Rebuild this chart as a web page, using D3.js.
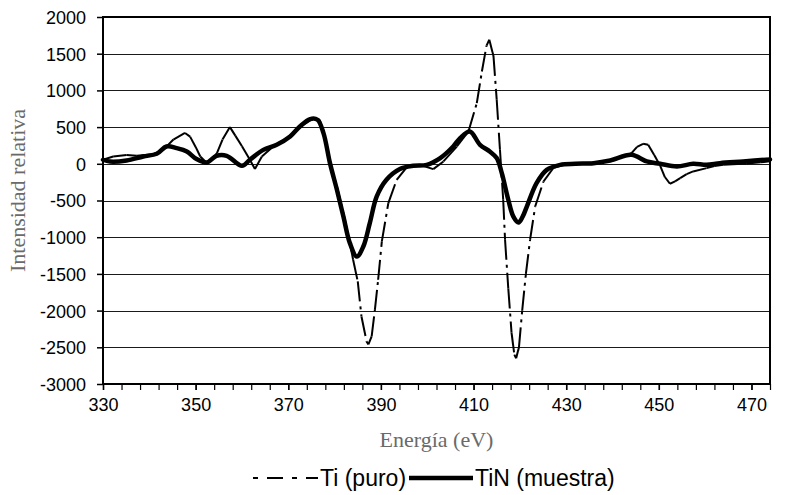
<!DOCTYPE html>
<html lang="es">
<head>
    <meta charset="UTF-8">
    <title>Espectro Ti / TiN</title>
    <script src="https://d3js.org/d3.v7.min.js"></script>
    <style>
        body { margin: 0; background: #fff; }
        .tick-label { font-family: "Liberation Sans", Arial, sans-serif; font-size: 18px; fill: #000; }
        .axis-title { font-family: "Liberation Serif", "Times New Roman", serif; font-size: 22px; fill: #6a6a6a; }
        .legend-label { font-family: "Liberation Sans", Arial, sans-serif; font-size: 23px; fill: #000; }
    </style>
</head>
<body>
<div id="chart"></div>
<script>
    // Ti (puro) - thin dash-dot line
    const tiEnergy = [330, 332.2, 335.1, 337.3, 340.9, 343, 345.2, 347.7, 348.8, 350, 351, 352.4, 353.5, 354.6, 355.8,
        357.4, 358.6, 360, 361.5, 362.8, 364.3, 366.8, 369.7, 372.5, 375.4, 376.8, 377.7, 378.6, 380.5, 382, 383.2,
        384, 385, 385.8, 386.9, 387.3, 388, 388.7, 389.4, 390.2, 391.6, 393.4, 395.6, 398.4, 401.3, 403.5, 406.4, 408.9,
        410.7, 411.8, 412.8, 413.4, 414.3, 415, 415.7, 416.4, 416.8, 417.5, 418.2, 418.8, 419.2, 419.8, 420.5, 421.3,
        422.2, 423.3, 425.1, 427.2, 430, 432, 434, 436, 438, 440, 442, 444.1, 445.3, 446.6, 447.7, 449, 450.3, 451.3,
        452.4, 453.5, 454.6, 456, 457.4, 460.3, 462, 463.9, 466, 469, 472, 474];
    const tiValue = [55, 100, 120, 110, 130, 190, 330, 420, 370, 230, 100, 10, 60, 145, 330,
        500, 380, 240, 80, -70, 100, 240, 350, 500, 620, 600, 400, 100, -309, -700, -1050,
        -1308, -1603, -2080, -2420, -2460, -2350, -1990, -1580, -1058, -535, -218, -45, -14, -72, 32, 236, 440,
        826, 1257, 1610, 1690, 1470, 872, 191, -490, -1035, -1700, -2300, -2600, -2650, -2500, -2000, -1500,
        -1035, -582, -241, -59, -5, 0, 10, 15, 35, 55, 90, 145, 230, 272, 259, 120, -27, -180,
        -272, -240, -195, -140, -104, -59, -30, -14, -5, 5, 20, 35];

    // TiN (muestra) - thick solid line
    const tinEnergy = [330, 331.5, 335.1, 338.7, 341.6, 343.7, 345.9, 348.1, 350.2, 352.4, 354.5, 356.7, 360, 361.7,
        364.6, 367.5, 370.4, 372.5, 374.7, 376.3, 377.6, 379, 380.5, 381.9, 383.3, 384.8, 386.2, 387.6, 389.1, 391.2,
        394.1, 397, 399.9, 402.8, 405.6, 407.1, 409.2, 411.4, 413.5, 415, 416.1, 417.5, 418.6, 419.7, 420.6, 421.5,
        423.6, 425.8, 428.7, 432, 435.9, 439.5, 444.1, 447.4, 450.3, 453.9, 457.4, 460.3, 463.2, 468.2, 474];
    const tinValue = [55, 30, 45, 100, 136, 236, 213, 168, 64, 18, 109, 109, -27, 55,
        190, 260, 372, 508, 609, 600, 418, 9, -354, -718, -1081, -1263, -1127, -808, -445, -218,
        -72, -27, -14, 78, 236, 350, 440, 259, 168, 78, -127, -490, -720, -800, -720, -582,
        -263, -82, -14, 0, 9, 45, 123, 32, 0, -36, 0, -14, 9, 32, 60];

    const xTickValues = [330, 350, 370, 390, 410, 430, 450, 470];
    const yTickValues = [-3000, -2500, -2000, -1500, -1000, -500, 0, 500, 1000, 1500, 2000];

    const width = 785, height = 495;
    const plot = { left: 103, right: 770, top: 17, bottom: 384 };

    const svg = d3.select("#chart").append("svg")
        .attr("width", width)
        .attr("height", height);

    const x = d3.scaleLinear().domain([330, 474]).range([plot.left, plot.right]);
    const y = d3.scaleLinear().domain([-3000, 2000]).range([plot.bottom, plot.top]);

    // horizontal gridlines
    svg.append("g")
        .selectAll("line")
        .data(yTickValues.slice(1, -1))
        .enter().append("line")
        .attr("x1", plot.left).attr("x2", plot.right)
        .attr("y1", d => Math.round(y(d)) + 0.5).attr("y2", d => Math.round(y(d)) + 0.5)
        .style("stroke", "#1a1a1a")
        .style("stroke-width", 1);

    // y axis (plain hyphen for negatives, like the original)
    const yAxis = svg.append("g")
        .attr("transform", `translate(${plot.left},0)`)
        .call(d3.axisLeft(y).tickValues(yTickValues).tickSize(6).tickFormat(d => String(d)));
    yAxis.select(".domain").remove();
    yAxis.selectAll(".tick line").style("stroke", "#000").style("stroke-width", 1.5);
    yAxis.selectAll(".tick text").attr("class", "tick-label").attr("x", -17).attr("dy", "0.36em");

    // x axis: minor ticks every 4 eV, labels every 20
    const xMinor = svg.append("g")
        .attr("transform", `translate(0,${plot.bottom})`)
        .call(d3.axisBottom(x).tickValues(d3.range(330, 475, 4)).tickSize(6).tickFormat(""));
    xMinor.select(".domain").remove();
    xMinor.selectAll(".tick line").style("stroke", "#000").style("stroke-width", 1.2);

    const xAxis = svg.append("g")
        .attr("transform", `translate(0,${plot.bottom})`)
        .call(d3.axisBottom(x).tickValues(xTickValues).tickSize(6).tickFormat(d => String(d)));
    xAxis.select(".domain").remove();
    xAxis.selectAll(".tick line").style("stroke", "#000").style("stroke-width", 1.5);
    xAxis.selectAll(".tick text").attr("class", "tick-label").attr("y", 14).attr("dy", "0.71em");

    // plot frame
    svg.append("rect")
        .attr("x", plot.left).attr("y", plot.top)
        .attr("width", plot.right - plot.left).attr("height", plot.bottom - plot.top)
        .style("fill", "none")
        .style("stroke", "#000")
        .style("stroke-width", 2);

    // TiN thick line
    const tinData = tinEnergy.map((e, i) => ({ e: e, v: tinValue[i] }));
    const line = d3.line().x(d => x(d.e)).y(d => y(d.v)).curve(d3.curveCatmullRom.alpha(0.5));
    svg.append("path")
        .datum(tinData)
        .attr("d", line)
        .style("fill", "none")
        .style("stroke", "#000")
        .style("stroke-width", 4.5)
        .style("stroke-linejoin", "round")
        .style("stroke-linecap", "round");

    // Ti line: dash pattern restarts every segment, so short segments look solid
    const tiData = tiEnergy.map((e, i) => ({ e: e, v: tiValue[i] }));
    svg.append("g")
        .selectAll("line")
        .data(d3.pairs(tiData))
        .enter().append("line")
        .attr("x1", d => x(d[0].e)).attr("y1", d => y(d[0].v))
        .attr("x2", d => x(d[1].e)).attr("y2", d => y(d[1].v))
        .style("stroke", "#000")
        .style("stroke-width", 2)
        .style("stroke-dasharray", "20,5,3,5");

    // axis titles
    svg.append("text")
        .attr("class", "axis-title")
        .attr("text-anchor", "middle")
        .attr("transform", `translate(25,${(plot.top + plot.bottom) / 2 - 10}) rotate(-90)`)
        .text("Intensidad relativa");

    svg.append("text")
        .attr("class", "axis-title")
        .attr("text-anchor", "middle")
        .attr("x", (plot.left + plot.right) / 2)
        .attr("y", 447)
        .text("Energía (eV)");

    // legend
    const legendY = 478;
    svg.append("line")
        .attr("x1", 253).attr("x2", 318)
        .attr("y1", legendY).attr("y2", legendY)
        .style("stroke", "#000")
        .style("stroke-width", 2)
        .style("stroke-dasharray", "5,9,16,9,5,9,16");
    svg.append("text")
        .attr("class", "legend-label")
        .attr("x", 320).attr("y", legendY + 8)
        .text("Ti (puro)");

    svg.append("line")
        .attr("x1", 409).attr("x2", 473)
        .attr("y1", legendY).attr("y2", legendY)
        .style("stroke", "#000")
        .style("stroke-width", 4.5);
    svg.append("text")
        .attr("class", "legend-label")
        .attr("x", 475).attr("y", legendY + 8)
        .text("TiN (muestra)");
</script>
</body>
</html>
